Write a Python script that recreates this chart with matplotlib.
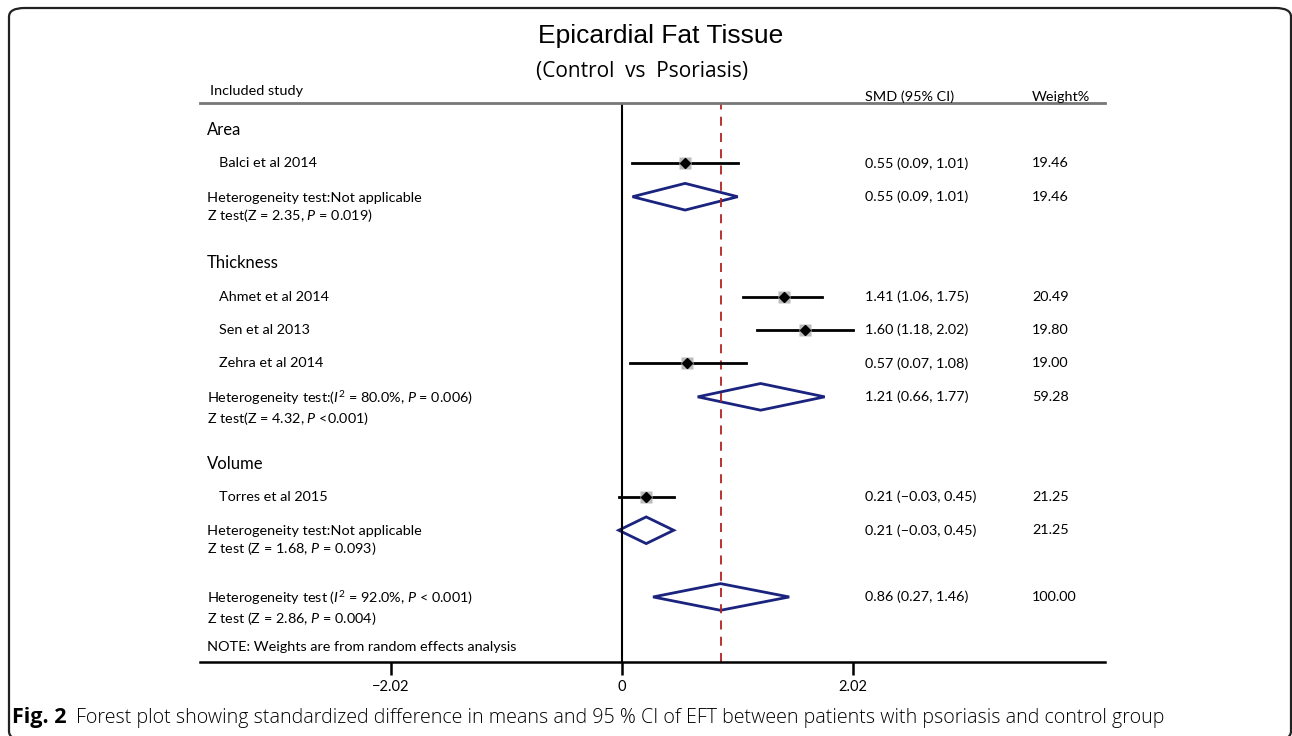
import numpy as np
import matplotlib.pyplot as plt
from matplotlib.patches import Polygon, FancyBboxPatch
from matplotlib.transforms import blended_transform_factory

# study-level data
studies = ['Balci et al 2014', 'Ahmet et al 2014', 'Sen et al 2013', 'Zehra et al 2014', 'Torres et al 2015']
study_rows = [1, 5, 6, 7, 11]
smd = [0.55, 1.41, 1.60, 0.57, 0.21]
lo = [0.09, 1.06, 1.18, 0.07, -0.03]
hi = [1.01, 1.75, 2.02, 1.08, 0.45]
weights = ['19.46', '20.49', '19.80', '19.00', '21.25']
ci_text = ['0.55 (0.09, 1.01)', '1.41 (1.06, 1.75)', '1.60 (1.18, 2.02)',
           '0.57 (0.07, 1.08)', '0.21 (\u22120.03, 0.45)']

# subgroup / overall pooled estimates
groups = ['Area', 'Thickness', 'Volume']
group_rows = [0, 4, 10]
pooled_rows = [2, 8, 12, 14]
pooled_smd = [0.55, 1.21, 0.21, 0.86]
pooled_lo = [0.09, 0.66, -0.03, 0.27]
pooled_hi = [1.01, 1.77, 0.45, 1.46]
pooled_ci = ['0.55 (0.09, 1.01)', '1.21 (0.66, 1.77)', '0.21 (\u22120.03, 0.45)', '0.86 (0.27, 1.46)']
pooled_w = ['19.46', '59.28', '21.25', '100.00']
het_text = ['Heterogeneity test:Not applicable',
            'Heterogeneity test:($I^2$ = 80.0%, $P$ = 0.006)',
            'Heterogeneity test:Not applicable',
            'Heterogeneity test ($I^2$ = 92.0%, $P$ < 0.001)']
z_text = ['Z test(Z = 2.35, $P$ = 0.019)',
          'Z test(Z = 4.32, $P$ <0.001)',
          'Z test (Z = 1.68, $P$ = 0.093)',
          'Z test (Z = 2.86, $P$ = 0.004)']
overall = 0.86
xticks = [-2.02, 0, 2.02]

W, H = 1292, 736
plt.rcParams['font.family'] = ['Lato', 'DejaVu Sans']
plt.rcParams['mathtext.fontset'] = 'custom'
plt.rcParams['mathtext.it'] = 'Lato:italic'
plt.rcParams['mathtext.rm'] = 'Lato'

fig = plt.figure(figsize=(W / 100, H / 100), dpi=100)

# frame around figure
fig.patches.append(FancyBboxPatch((9 / W, 1 - 740 / H), (1291 - 9) / W, (740 - 8) / H,
                                  boxstyle='round,pad=0,rounding_size=0.012',
                                  transform=fig.transFigure, fill=False,
                                  edgecolor='#222222', linewidth=1.6))

ax = fig.add_axes([200 / W, 1 - 662 / H, (1105 - 200) / W, (662 - 103) / H])
ax.set_xlim(-3.69, 4.22)
ax.set_ylim(15.95, -0.81)
for s in ['left', 'right']:
    ax.spines[s].set_visible(False)
ax.spines['top'].set_color('#777777')
ax.spines['top'].set_linewidth(2)
ax.spines['bottom'].set_linewidth(1.8)
ax.set_yticks([])
ax.set_xticks(xticks)
ax.set_xticklabels(['\u22122.02', '0', '2.02'], fontsize=10.5)
ax.tick_params(axis='x', length=9, width=1.8, pad=4)

ax.axvline(0, color='black', lw=1.5)
ax.axvline(overall, color='#b22222', lw=1.3, ls=(0, (5, 4)))

# study CI lines and markers
for r, m, l, h in zip(study_rows, smd, lo, hi):
    ax.plot([l, h], [r, r], color='black', lw=2)
    ax.plot(m, r, marker='s', ms=9, color='#bbbbbb', mec='none')
    ax.plot(m, r, marker='D', ms=5.5, color='black')

# pooled diamonds
for r, m, l, h in zip(pooled_rows, pooled_smd, pooled_lo, pooled_hi):
    dia = Polygon([[l, r], [m, r - 0.4], [h, r], [m, r + 0.4]], closed=True,
                  fill=False, edgecolor='#1a237e', lw=2)
    ax.add_patch(dia)

tr = blended_transform_factory(fig.transFigure, ax.transData)
fs = 10.4

def txt(px, row, s, **kw):
    kw.setdefault('fontsize', fs)
    kw.setdefault('va', 'center')
    ax.text(px / W, row, s, transform=tr, ha='left', clip_on=False, **kw)

# headers
txt(210, -1.17, 'Included study')
txt(865, -1.0, 'SMD (95% CI)')
txt(1032, -1.0, 'Weight%')

for g, r in zip(groups, group_rows):
    txt(207, r, g, fontsize=12)

for s, r, c, w in zip(studies, study_rows, ci_text, weights):
    txt(219, r, s)
    txt(865, r, c)
    txt(1032, r, w)

for r, ht, zt, c, w in zip(pooled_rows, het_text, z_text, pooled_ci, pooled_w):
    txt(207, r + 0.33, ht + '\n' + zt, linespacing=1.2)
    txt(865, r, c)
    txt(1032, r, w)

txt(207, 15.5, 'NOTE: Weights are from random effects analysis')

fig.text(661 / W, 1 - 36 / H, 'Epicardial Fat Tissue', ha='center', va='center',
         fontsize=19, family='Liberation Sans')
fig.text(642 / W, 1 - 72 / H, '(Control  vs  Psoriasis)', ha='center', va='center',
         fontsize=15, family='Open Sans')

fig.text(12 / W, 1 - 718 / H, 'Fig. 2', ha='left', va='center', fontsize=15.5,
         fontweight='bold', family='Open Sans')
fig.text(76 / W, 1 - 718 / H,
         'Forest plot showing standardized difference in means and 95 % CI of EFT '
         'between patients with psoriasis and control group',
         ha='left', va='center', fontsize=14.15, family='Open Sans', fontweight='light')

fig.savefig('out.png', dpi=100)
